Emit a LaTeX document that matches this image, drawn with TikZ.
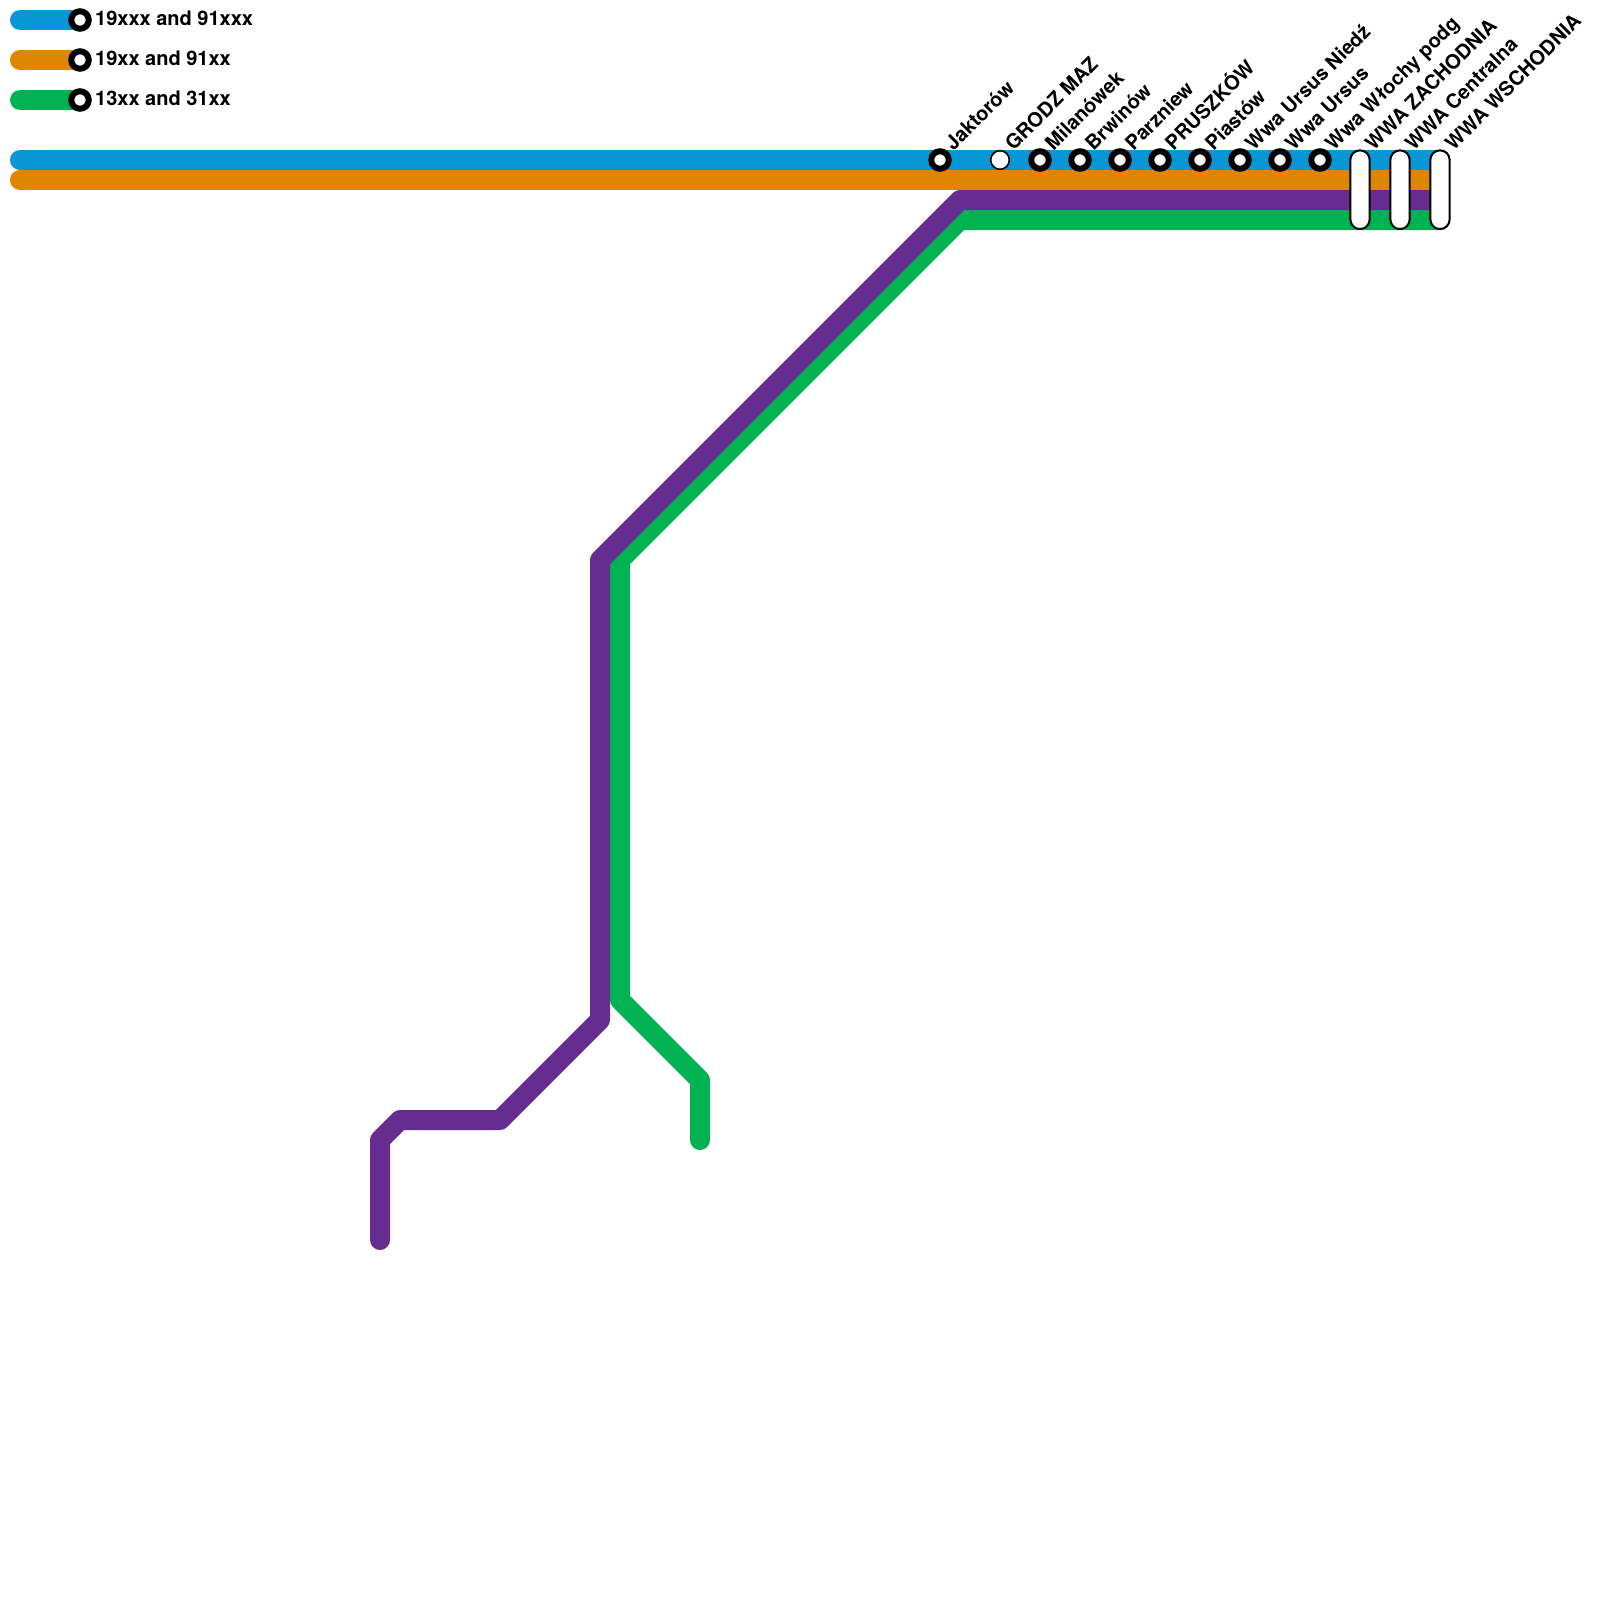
\documentclass[tikz,border=0pt]{standalone}
\usepackage{fontspec}
\setmainfont{TeX Gyre Heros}
\definecolor{lblue}{HTML}{0896D7}
\definecolor{lorange}{HTML}{DF8600}
\definecolor{lpurple}{HTML}{662C90}
\definecolor{lgreen}{HTML}{00B251}
\tikzset{
  metro/.style={line width=20pt,line cap=round,line join=round},
  stn/.style={circle,draw=black,fill=white,line width=6pt,minimum size=17.5pt,inner sep=0pt},
  stnopen/.style={circle,draw=black,fill=white,line width=1.6pt,minimum size=18.6pt,inner sep=0pt},
  pill/.style={rectangle,draw=black,fill=white,line width=2pt,rounded corners=9.6pt,minimum width=19.3pt,minimum height=78.7pt,inner sep=0pt},
  lab/.style={anchor=base west,rotate=45,inner sep=0pt,font=\bfseries\fontsize{20pt}{24pt}\selectfont,text=black},
  leg/.style={anchor=base west,inner sep=0pt,font=\bfseries\fontsize{20pt}{24pt}\selectfont,text=black}
}
\begin{document}
\begin{tikzpicture}[x=1pt,y=-1pt]
\useasboundingbox (0,0) rectangle (1600,1600);
% legend
\coordinate (la) at (20,20); \coordinate (lb) at (20,60); \coordinate (lc) at (20,100);
\node[stn,opacity=0] (sa) at (80,20) {}; \node[stn,opacity=0] (sb) at (80,60) {}; \node[stn,opacity=0] (sc) at (80,100) {};
\draw[metro,lblue] (la) -- (sa.center);
\draw[metro,lorange] (lb) -- (sb.center);
\draw[metro,lgreen] (lc) -- (sc.center);
\node[stn] (sa2) at (sa.center) {};
\node[stn] (sb2) at (sb.center) {};
\node[stn] (sc2) at (sc.center) {};
\node[leg] (ta) at (95,25.8) {19xxx and 91xxx};
\node[leg] (tb) at (95,65.8) {19xx and 91xx};
\node[leg] (tc) at (95,105.8) {13xx and 31xx};
% main line coordinates
\coordinate (b0) at (20,160); \coordinate (b1) at (1440,160);
\coordinate (o0) at (20,180); \coordinate (o1) at (1440,180);
\coordinate (p0) at (1440,200); \coordinate (p1) at (960,200); \coordinate (p2) at (600,560);
\coordinate (p3) at (600,1020); \coordinate (p4) at (500,1120); \coordinate (p5) at (400,1120);
\coordinate (p6) at (380,1140); \coordinate (p7) at (380,1240);
\coordinate (g0) at (1440,220); \coordinate (g1) at (960,220); \coordinate (g2) at (620,560);
\coordinate (g3) at (620,1000); \coordinate (g4) at (700,1080); \coordinate (g5) at (700,1140);
\draw[metro,lblue] (b0) -- (b1);
\draw[metro,lorange] (o0) -- (o1);
\draw[metro,lgreen] (g0) -- (g1) -- (g2) -- (g3) -- (g4) -- (g5);
\draw[metro,lpurple] (p0) -- (p1) -- (p2) -- (p3) -- (p4) -- (p5) -- (p6) -- (p7);
% stations
\node[stn] (s1) at (940,160) {};
\node[stnopen] (s2) at (1000,160) {};
\node[stn] (s3) at (1040,160) {};
\node[stn] (s4) at (1080,160) {};
\node[stn] (s5) at (1120,160) {};
\node[stn] (s6) at (1160,160) {};
\node[stn] (s7) at (1200,160) {};
\node[stn] (s8) at (1240,160) {};
\node[stn] (s9) at (1280,160) {};
\node[stn] (s10) at (1320,160) {};
\node[pill] (s11) at (1360,189.7) {};
\node[pill] (s12) at (1400,189.7) {};
\node[pill] (s13) at (1440,189.7) {};
% labels
\node[lab] (t1) at (953.5,151.5) {Jaktorów};
\node[lab] (t2) at (1013.5,151.5) {GRODZ MAZ};
\node[lab] (t3) at (1053.5,151.5) {Milanówek};
\node[lab] (t4) at (1093.5,151.5) {Brwinów};
\node[lab] (t5) at (1133.5,151.5) {Parzniew};
\node[lab] (t6) at (1173.5,151.5) {PRUSZKÓW};
\node[lab] (t7) at (1213.5,151.5) {Piastów};
\node[lab] (t8) at (1253.5,151.5) {Wwa Ursus Niedź};
\node[lab] (t9) at (1293.5,151.5) {Wwa Ursus};
\node[lab] (t10) at (1333.5,151.5) {Wwa Włochy podg};
\node[lab] (t11) at (1373.5,151.5) {WWA ZACHODNIA};
\node[lab] (t12) at (1413.5,151.5) {WWA Centralna};
\node[lab] (t13) at (1453.5,151.5) {WWA WSCHODNIA};
\end{tikzpicture}
\end{document}
